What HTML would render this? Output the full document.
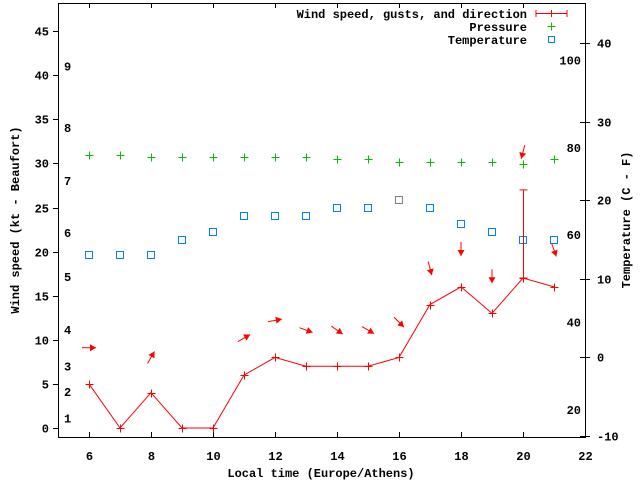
<!DOCTYPE html>
<html><head><meta charset="utf-8"><style>
body{margin:0;background:#fff;}
svg text{font-family:"Liberation Mono",monospace;font-size:12px;font-weight:bold;fill:#000;}
</style></head><body>
<svg id="c" width="640" height="480" xmlns="http://www.w3.org/2000/svg"></svg>
<script>
const hours=[6,7,8,9,10,11,12,13,14,15,16,17,18,19,20,21];
const windSpeed=[5,0,4,0,0,6,8,7,7,7,8,14,16,13,17,16];
const gustHours=[20];
const gustValues=[27];
const temperatureC=[13,13,13,15,16,18,18,18,19,19,20,19,17,16,15,15];
const pressure=[1016,1016,1015,1015,1015,1015,1015,1015,1014,1014,1013,1013,1013,1013,1012,1014];
const arrowHours=[6,8,11,12,13,14,15,16,17,18,19,20,21];
const arrowLevel=[9.1,8,10.2,12.2,11.1,11.1,11.1,12,18.1,20.3,17.2,31.3,20.2];
const arrowDir=[90,30,60,80,110,125,120,135,165,180,180,195,160];
const xTicks=[6,8,10,12,14,16,18,20,22];
const yTicks=[0,5,10,15,20,25,30,35,40,45];
const cTicks=[-10,0,10,20,30,40];
const fTicks=[20,40,60,80,100];
const bftLevels=[1.1,4.1,7,11.1,17.1,22.1,28,34,41];
const bftLabels=["1","2","3","4","5","6","7","8","9"];

const L=58,R=585,T=3,B=437;
const X=h=>L+(h-5)*(R-L)/17;
const Y=v=>428-v*8.82;
const YC=c=>436-(c+10)*7.86;
const YP=p=>155+(1016-p)*2.2;
const svg=document.getElementById('c');
const NS='http://www.w3.org/2000/svg';
function mk(tag,at,parent){const e=document.createElementNS(NS,tag);for(const k in at)e.setAttribute(k,at[k]);(parent||svg).appendChild(e);return e;}
function txt(x,y,s,anchor,parent){const t=mk('text',{x:x,y:y,'text-anchor':anchor||'start'},parent);t.textContent=s;return t;}

// frame
const frame=mk('rect',{x:L+.5,y:T+.5,width:R-L,height:B-T,fill:'none',stroke:'#000','stroke-width':1});



const xa=mk('g',{});


xTicks.forEach(h=>{const x=Math.round(X(h))+.5;
 mk('line',{x1:x,x2:x,y1:B,y2:B-5,stroke:'#000'},xa);
 mk('line',{x1:x,x2:x,y1:T,y2:T+5,stroke:'#000'},xa);
 const t=txt(x,460,String(h),'middle',xa);
 
 });
const xt=txt(321,477,'Local time (Europe/Athens)','middle');



const ya=mk('g',{});


yTicks.forEach(v=>{const y=Math.round(Y(v))+.5;
 mk('line',{x1:L-5,x2:L,y1:y,y2:y,stroke:'#000'},ya);
 const t=txt(49,y+4,String(v),'end',ya);
 
 });
bftLevels.forEach((v,i)=>{const t=txt(64,Y(v)+4,bftLabels[i],'start',ya);
 
 });
const yt=txt(0,0,'Wind speed (kt - Beaufort)','middle');
yt.setAttribute('transform','translate(19,220) rotate(-90)');



const ra=mk('g',{});


cTicks.forEach(c=>{const y=Math.round(YC(c))+.5;
 mk('line',{x1:R-5,x2:R+5,y1:y,y2:y,stroke:'#000'},ra);
 const t=txt(597,y+4,String(c),'start',ra);
 
 });
fTicks.forEach(f=>{const y=YC((f-32)*5/9);
 const t=txt(581,y+4,String(f),'end',ra);
 
 });
const rt=txt(0,0,'Temperature (C - F)','middle');
rt.setAttribute('transform','translate(630,220) rotate(-90)');



function plus(x,y,col,g){mk('path',{d:`M${x-4},${y}H${x+4}M${x},${y-4}V${y+4}`,stroke:col,'stroke-width':1},g);}

// pressure
const pg=mk('g',{});


hours.forEach((h,i)=>plus(Math.round(X(h))+.5,Math.round(YP(pressure[i]))+.5,'#00c000',pg));

// temperature
const tg=mk('g',{});


hours.forEach((h,i)=>{const x=Math.round(X(h)),y=Math.round(YC(temperatureC[i]));
 mk('rect',{x:x-3.5,y:y-3.5,width:7,height:7,fill:'none',stroke:h===16?'#808080':'#0080ff'},tg);});

// wind
const wg=mk('g',{});


mk('polyline',{points:hours.map((h,i)=>X(h)+','+Y(windSpeed[i])).join(' '),fill:'none',stroke:'#f00'},wg);
hours.forEach((h,i)=>plus(Math.round(X(h))+.5,Math.round(Y(windSpeed[i]))+.5,'#f00',wg));
gustHours.forEach((h,k)=>{const i=hours.indexOf(h);const x=Math.round(X(h))+.5;
 const y1=Y(windSpeed[i]),y2=Y(gustValues[k]);
 mk('path',{d:`M${x},${y1}V${y2}M${x-4},${y2}H${x+4}M${x-4},${y1}H${x+4}`,stroke:'#f00'},wg);});
arrowHours.forEach((h,i)=>{const cx=X(h),cy=Y(arrowLevel[i]),a=arrowDir[i]*Math.PI/180;
 const dx=Math.sin(a),dy=-Math.cos(a);
 const hx=cx+dx*7,hy=cy+dy*7,tx=cx-dx*7,ty=cy-dy*7;
 const px=-dy,py=dx;
 const ar=mk('g',{},wg);
 
 
 mk('line',{x1:tx,y1:ty,x2:hx,y2:hy,stroke:'#f00'},ar);
 mk('polygon',{points:`${hx},${hy} ${hx-dx*6+px*3.5},${hy-dy*6+py*3.5} ${hx-dx*6-px*3.5},${hy-dy*6-py*3.5}`,fill:'#f00'},ar);});

// legend
const lg=mk('g',{});


const e1=txt(527,18,'Wind speed, gusts, and direction','end',lg);


mk('path',{d:'M536,13.5H567M536,10V17M567,10V17M551.5,10V17',stroke:'#f00'},lg);
const e2=txt(527,31,'Pressure','end',lg);


plus(551.5,26.5,'#00c000',lg);
const e3=txt(527,44,'Temperature','end',lg);


mk('rect',{x:548.5,y:36.5,width:6,height:6,fill:'none',stroke:'#0080ff'},lg);
</script>
</body></html>
